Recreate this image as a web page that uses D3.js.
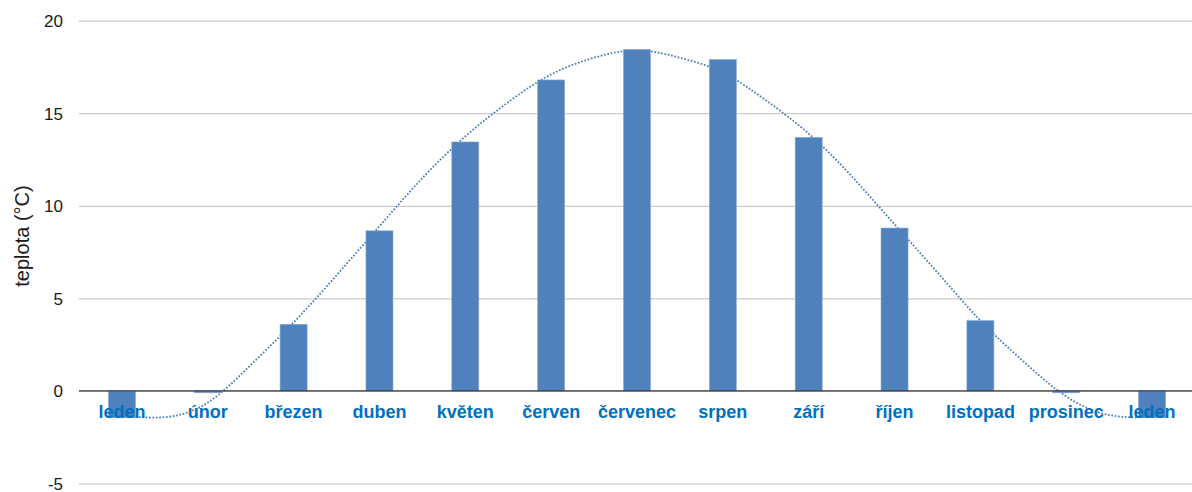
<!DOCTYPE html>
<html>
<head>
<meta charset="utf-8">
<script src="https://cdn.jsdelivr.net/npm/d3@7"></script>
<style>
  html, body { margin: 0; padding: 0; background: #fff; }
  svg { display: block; }
</style>
</head>
<body>
<svg id="chart" width="1192" height="492"></svg>
<script>
// Monthly mean temperatures (°C), January repeated at the end
const months = ["leden", "únor", "březen", "duben", "květen", "červen", "červenec",
                "srpen", "září", "říjen", "listopad", "prosinec", "leden"];
const temperatures = [-1.45, -0.1, 3.6, 8.65, 13.45, 16.8, 18.45, 17.9, 13.7, 8.8, 3.8, -0.1, -1.45];

// Trend curve sampled every half month (starting at the first January)
const trendValues = [-1.3, -1.42, -0.63, 1.4, 3.7, 6.25, 8.9, 11.5, 13.75, 15.6, 17.1, 18.0, 18.4,
                     18.0, 17.2, 15.7, 13.9, 11.6, 9.0, 6.4, 3.8, 1.6, -0.3, -1.3, -1.4];

const yTicks = [-5, 0, 5, 10, 15, 20];
const yTitle = "teplota (°C)";

const svg = d3.select("#chart");
const plotLeft = 79, plotRight = 1195, plotTop = 20.7, plotBottom = 483.5;

const x = d3.scaleBand().domain(d3.range(months.length)).range([plotLeft, plotRight]).padding(0);
const xPos = d3.scaleLinear().domain([-0.5, months.length - 0.5]).range([plotLeft, plotRight]);
const y = d3.scaleLinear().domain([-5, 20]).range([plotBottom, plotTop]);

// Horizontal gridlines with tick labels (plain hyphen for negatives)
const yAxis = d3.axisLeft(y).tickValues(yTicks).tickSize(-(1192 - plotLeft)).tickFormat(d => String(d));
const gy = svg.append("g").attr("transform", `translate(${plotLeft},0)`).call(yAxis);
gy.select(".domain").remove();
gy.selectAll(".tick line").attr("stroke", "#bfbfbf").attr("stroke-width", 1);
gy.selectAll(".tick text")
  .attr("x", -16)
  .attr("dy", "0.35em")
  .attr("fill", "#1a1a1a")
  .style("font-family", "'Liberation Sans', Arial, sans-serif")
  .style("font-size", "17px");

// Axis title
svg.append("text")
  .attr("transform", "translate(22,236) rotate(-90)")
  .attr("text-anchor", "middle")
  .attr("dy", "0.35em")
  .attr("fill", "#1a1a1a")
  .style("font-family", "'Liberation Sans', Arial, sans-serif")
  .style("font-size", "20px")
  .text(yTitle);

// Dotted trend line (behind the bars)
const line = d3.line()
  .x((d, i) => xPos(i / 2))
  .y(d => y(d))
  .curve(d3.curveNatural);
svg.append("path")
  .datum(trendValues)
  .attr("d", line)
  .attr("fill", "none")
  .attr("stroke", "#4a7ebb")
  .attr("stroke-width", 1.8)
  .attr("stroke-dasharray", "1.7 1.7");

// Bars
const barW = x.bandwidth() * 0.315;
svg.append("g").selectAll("rect")
  .data(temperatures)
  .join("rect")
  .attr("x", (d, i) => x(i) + (x.bandwidth() - barW) / 2)
  .attr("y", d => y(Math.max(0, d)))
  .attr("width", barW)
  .attr("height", d => Math.abs(y(d) - y(0)))
  .attr("fill", "#4f81bd")
  .attr("stroke", "#8eaad6")
  .attr("stroke-width", 0.6);

// Zero line
svg.append("line")
  .attr("x1", plotLeft).attr("x2", 1192)
  .attr("y1", y(0)).attr("y2", y(0))
  .attr("stroke", "#3a3a3a")
  .attr("stroke-width", 1.2);

// Month labels
svg.append("g").selectAll("text")
  .data(months)
  .join("text")
  .attr("x", (d, i) => x(i) + x.bandwidth() / 2)
  .attr("y", 418)
  .attr("text-anchor", "middle")
  .attr("fill", "#0070c0")
  .style("font-family", "'Liberation Sans', Arial, sans-serif")
  .style("font-size", "18px")
  .style("font-weight", "bold")
  .text(d => d);
</script>
</body>
</html>
